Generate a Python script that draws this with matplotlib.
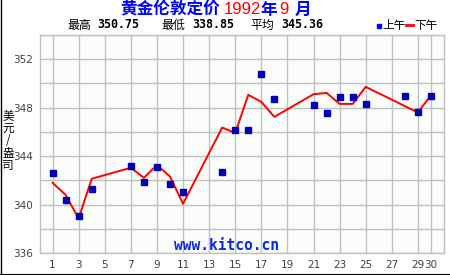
import matplotlib
matplotlib.use("Agg")
import matplotlib.pyplot as plt
from matplotlib.lines import Line2D

plt.rcParams['font.family'] = ['DejaVu Sans', 'Noto Sans CJK SC']

# London gold fixing, September 1992 (USD / oz)
am_days = [1, 2, 3, 4, 7, 8, 9, 10, 11, 14, 15, 16, 17, 18, 21, 22, 23, 24, 25, 28, 29, 30]
am_price = [342.63, 340.40, 339.03, 341.27, 343.17, 341.88, 343.12, 341.72, 341.05, 342.71,
            346.19, 346.19, 350.75, 348.68, 348.26, 347.52, 348.92, 348.92, 348.34, 349.00,
            347.68, 349.00]
pm_days = [1, 2, 3, 4, 7, 8, 9, 10, 11, 14, 15, 16, 17, 18, 21, 22, 23, 24, 25, 29, 30]
pm_price = [341.80, 340.80, 338.85, 342.13, 343.04, 342.21, 343.26, 342.32, 340.06, 346.36,
            345.91, 349.06, 348.48, 347.24, 349.11, 349.22, 348.31, 348.31, 349.72, 347.60,
            349.03]
x_ticks = [1, 3, 5, 7, 9, 11, 13, 15, 17, 19, 21, 23, 25, 27, 29, 30]
y_ticks = [336, 340, 344, 348, 352]

W, H = 450, 275
fig = plt.figure(figsize=(4.5, 2.75), dpi=100)
fig.patch.set_facecolor('white')
ax = fig.add_axes([39.5 / W, 1 - 253 / H, (444 - 39.5) / W, (253 - 35) / H])
ax.set_facecolor('#fbfdfb')

ax.set_xlim(0, 31)
ax.set_ylim(336, 354)
ax.set_xticks(x_ticks)
ax.set_yticks(y_ticks)
ax.set_yticks(range(336, 355, 2), minor=True)
ax.grid(True, which='both', axis='y', color='#c0c0c0', linewidth=1)
ax.grid(True, which='major', axis='x', color='#c0c0c0', linewidth=1)
ax.tick_params(which='both', length=0, labelsize=7.5, labelcolor='#404040')
ax.tick_params(axis='x', pad=5)
ax.tick_params(axis='y', pad=5)
for s in ax.spines.values():
    s.set_color('#c0c0c0')
    s.set_linewidth(1)
ax.set_axisbelow(True)

ax.plot(pm_days, pm_price, color='#ff0000', linewidth=1.4, zorder=3)
ax.plot(am_days, am_price, linestyle='none', marker='s', markersize=4.3,
        color='#0000b4', zorder=4)


def ftext(x, y, s, **kw):
    kw.setdefault('va', 'center')
    fig.text(x / W, 1 - y / H, s, **kw)


ftext(226, 246, 'www.kitco.cn', ha='center', family='DejaVu Sans Mono',
      weight='bold', fontsize=10.5, color='#0a28e6')

cjk = ['Noto Sans CJK SC', 'DejaVu Sans']
# title
ftext(120, 10, '黄金伦敦定价', family=cjk, fontsize=12, weight='bold', color='#0000ff')
ftext(224, 10, '1992', family='Liberation Sans', fontsize=12, color='#ff0000')
ftext(260, 10, '年', family=cjk, fontsize=12, weight='bold', color='#0000ff')
ftext(279, 10, '9', family='Liberation Sans', fontsize=12, color='#ff0000')
ftext(295, 10, '月', family=cjk, fontsize=12, weight='bold', color='#0000ff')

# summary row
for x, s in [(67, '最高'), (161, '最低'), (250, '平均')]:
    ftext(x, 25, s, family=cjk, fontsize=8.6, color='black')
for x, s in [(97, '350.75'), (192, '338.85'), (281, '345.36')]:
    ftext(x, 25, s, family='DejaVu Sans Mono', weight='bold', fontsize=8.4, color='black')

# legend
fig.patches.append(plt.Rectangle((377 / W, 1 - 28 / H), 4 / W, 4 / H,
                                 transform=fig.transFigure, color='#0000ff'))
ftext(382, 25, '上午', family=cjk, fontsize=8.4, color='black')
fig.lines.append(Line2D([406 / W, 413 / W], [1 - 25 / H, 1 - 25 / H],
                        transform=fig.transFigure, color='#ff0000', linewidth=2))
ftext(414, 25, '下午', family=cjk, fontsize=8.4, color='black')

# y label, stacked characters
for y, ch in zip([117, 129, 141, 153, 165], '美元/盎司'):
    ftext(8, y, ch, ha='center', family=cjk, fontsize=8.4, color='black')

# outer frame
fig.lines.append(Line2D([0.5 / W, 0.5 / W], [0, 1], transform=fig.transFigure,
                        color='black', linewidth=1))
fig.lines.append(Line2D([0, 1], [0.5 / H, 0.5 / H], transform=fig.transFigure,
                        color='black', linewidth=1.5))

fig.savefig('out.png', dpi=100)
